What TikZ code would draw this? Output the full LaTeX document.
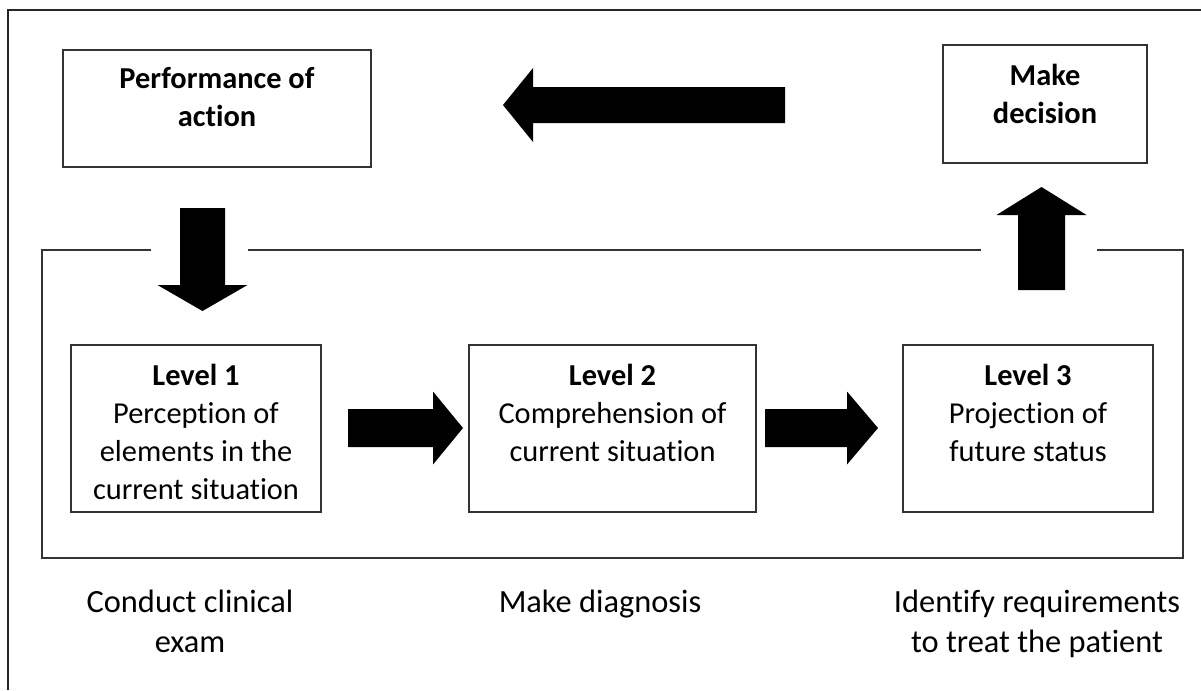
\documentclass[tikz,border=0pt]{standalone}
\usepackage{fontspec}
\setmainfont{Carlito}[Ligatures=NoCommon]
\usetikzlibrary{positioning}
\newlength\pxl
\setlength\pxl{0.75pt}

\begin{document}
\begin{tikzpicture}[x=\pxl,y=-\pxl,line join=miter,
	every node/.style={font=\fontsize{22.8}{28.3}\selectfont},
	box/.style={draw=black!80,line width=1.2pt,inner sep=0pt},
	boxtext/.style={align=center,inner sep=0pt},
	titletext/.style={boxtext,font=\fontsize{22.8}{28.3}\selectfont\bfseries},
	note/.style={align=center,inner sep=0pt,anchor=north,font=\fontsize{24.3}{30}\selectfont}]
	\useasboundingbox (0,0) rectangle (1201,690);
	\draw[line width=1.5pt,black!85] (8,690) -- (8,10) -- (1201,10);
	\node[box,minimum width=308\pxl,minimum height=117\pxl] (perf) at (217,108.5) {};
	\node[box,minimum width=204\pxl,minimum height=118\pxl] (dec) at (1045,104) {};
	\node[box,minimum width=250\pxl,minimum height=167\pxl] (lvA) at (196,428.5) {};
	\node[box,minimum width=287\pxl,minimum height=167\pxl] (lvB) at (612.5,428.5) {};
	\node[box,minimum width=250\pxl,minimum height=167\pxl] (lvC) at (1028,428.5) {};
	\node[titletext,below=18\pxl of perf.north] (perfT) {Performance of\\action};
	\node[titletext,below=20\pxl of dec.north] (decT) {Make\\decision};
	\node[boxtext,below=20\pxl of lvA.north] (lvAT) {\textbf{Level 1}\\Perception of\\elements in the\\current situation};
	\node[boxtext,below=20\pxl of lvB.north] (lvBT) {\textbf{Level 2}\\Comprehension of\\current situation};
	\node[boxtext,below=20\pxl of lvC.north] (lvCT) {\textbf{Level 3}\\Projection of\\future status};
	\node[note] (exam) at (190,590) {Conduct clinical\\exam};
	\node[note] (diag) at (600,590) {Make diagnosis};
	\node[note] (treat) at (1037,590) {Identify requirements\\to treat the patient};
	\draw[line width=1.1pt,black!80] (151,250) -- (42,250) -- (42,558) -- (1183,558) -- (1183,250) -- (1097,250);
	\draw[line width=1.1pt,black!80] (248,250) -- (981,250);
	\path
	(785,105) coordinate (backT)
	(202.5,208) coordinate (downT)
	(1041.5,290) coordinate (upT)
	(348,428) coordinate (rightA)
	(765,428) coordinate (rightB);
	\foreach \p/\a/\l/\w/\h/\k in {backT/180/282/36/74/30,downT/-90/103/45/90/26,upT/90/103/47/90/28,rightA/0/115/38/73/30,rightB/0/113/38/73/31}{
		\fill[shift={(\p)},rotate=\a] (0,-\w/2) -- ({\l-\k},-\w/2) -- ({\l-\k},-\h/2) -- (\l,0) -- ({\l-\k},\h/2) -- ({\l-\k},\w/2) -- (0,\w/2) -- cycle;
	}
\end{tikzpicture}
\end{document}
